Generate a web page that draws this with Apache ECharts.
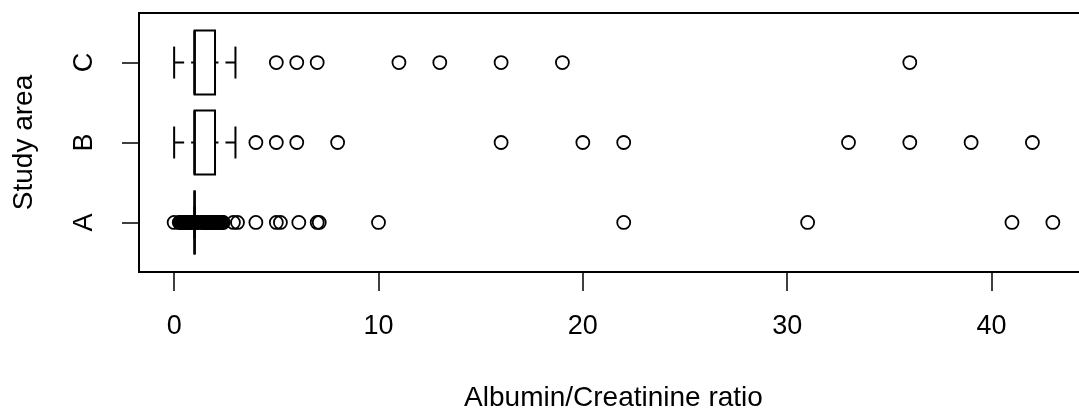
<!DOCTYPE html>
<html>
<head>
<meta charset="utf-8">
<script src="https://cdn.jsdelivr.net/npm/echarts@6/dist/echarts.min.js"></script>
<style>
html,body{margin:0;padding:0;background:#fff;}
#chart{width:1079px;height:410px;}
</style>
</head>
<body>
<div id="chart"></div>
<script>
// ---- data ----
const categories = ['A', 'B', 'C'];
// [min whisker, Q1, median, Q3, max whisker]
const statsA = [1, 1, 1, 1, 1];
const statsB = [0, 1, 1, 2, 3];
const statsC = [0, 1, 1, 2, 3];
const outliersA = [0, 0.25, 0.3, 0.35, 0.4, 0.45, 0.5, 0.55, 0.6, 0.65, 0.7, 0.75, 0.8, 0.85, 0.9, 0.95,
  1.05, 1.1, 1.15, 1.35, 1.4, 1.45, 1.5, 1.55, 1.6, 1.65, 1.7, 1.75, 1.8, 1.85, 1.9, 1.95,
  2, 2.05, 2.1, 2.15, 2.2, 2.25, 2.3, 2.35, 2.4, 2.9, 3.1, 4, 5, 5.2, 6.1, 7, 7.1, 10, 22, 31, 41, 43];
const outliersB = [4, 5, 6, 8, 16, 20, 22, 33, 36, 39, 42];
const outliersC = [5, 6, 7, 11, 13, 16, 19, 36];
const xTicks = [0, 10, 20, 30, 40];
const yTicks = [1, 2, 3];
const xTitle = 'Albumin/Creatinine ratio';
const yTitle = 'Study area';

// ---- build series data ----
const allStats = [statsA, statsB, statsC];
const boxData = allStats.map((s, i) => [i + 1].concat(s));
const allOut = [outliersA, outliersB, outliersC];
const outData = [];
allOut.forEach((arr, i) => arr.forEach(v => outData.push([v, i + 1])));

const FONT = 'Liberation Sans, Arial, sans-serif';
const chart = echarts.init(document.getElementById('chart'));

function renderBox(params, api) {
  const y = api.value(0);
  const mn = api.value(1), q1 = api.value(2), md = api.value(3), q3 = api.value(4), mx = api.value(5);
  const half = api.size([0, 0.4])[1];
  const cap = api.size([0, 0.2])[1];
  const pMin = api.coord([mn, y]), pQ1 = api.coord([q1, y]), pMd = api.coord([md, y]);
  const pQ3 = api.coord([q3, y]), pMax = api.coord([mx, y]);
  const cy = pMin[1];
  const line = { stroke: '#000', lineWidth: 2 };
  const dash = { stroke: '#000', lineWidth: 2, lineDash: [10, 7] };
  return {
    type: 'group',
    children: [
      { type: 'line', shape: { x1: pMin[0], y1: cy, x2: pQ1[0], y2: cy }, style: dash },
      { type: 'line', shape: { x1: pMax[0], y1: cy, x2: pQ3[0], y2: cy }, style: dash },
      { type: 'line', shape: { x1: pMin[0], y1: cy - cap, x2: pMin[0], y2: cy + cap }, style: line },
      { type: 'line', shape: { x1: pMax[0], y1: cy - cap, x2: pMax[0], y2: cy + cap }, style: line },
      { type: 'rect', shape: { x: pQ1[0], y: cy - half, width: pQ3[0] - pQ1[0], height: 2 * half }, style: { fill: 'none', stroke: '#000', lineWidth: 2 } },
      { type: 'line', shape: { x1: pMd[0], y1: cy - half, x2: pMd[0], y2: cy + half }, style: { stroke: '#000', lineWidth: 2.5 } }
    ]
  };
}

chart.setOption({
  animation: false,
  backgroundColor: '#fff',
  grid: {
    left: 139, top: 13, bottom: 138, right: -9,
    show: true, borderColor: '#000', borderWidth: 2, backgroundColor: 'transparent',
    containLabel: false, outerBoundsMode: 'none'
  },
  xAxis: {
    type: 'value', min: -1.72, max: 44.72,
    splitLine: { show: false },
    axisLine: { show: false, onZero: false },
    axisTick: { show: true, length: 19, customValues: xTicks, lineStyle: { color: '#000', width: 1.5 } },
    axisLabel: { customValues: xTicks, color: '#000', fontSize: 27, fontFamily: FONT, margin: 41 },
    name: xTitle, nameLocation: 'middle', nameGap: 112,
    nameTextStyle: { color: '#000', fontSize: 28, fontFamily: FONT }
  },
  yAxis: {
    type: 'value', min: 0.38, max: 3.62,
    splitLine: { show: false },
    axisLine: { show: false, onZero: false },
    axisTick: { show: true, length: 17, customValues: yTicks, lineStyle: { color: '#000', width: 1.5 } },
    axisLabel: {
      customValues: yTicks, rotate: 90, color: '#000', fontSize: 27, fontFamily: FONT, margin: 41,
      formatter: v => categories[Math.round(v) - 1] || ''
    },
    name: yTitle, nameLocation: 'middle', nameGap: 101, nameRotate: 90,
    nameTextStyle: { color: '#000', fontSize: 28, fontFamily: FONT }
  },
  series: [
    {
      type: 'custom',
      renderItem: renderBox,
      data: boxData,
      encode: { x: [1, 2, 3, 4, 5], y: 0 },
      z: 3
    },
    {
      type: 'scatter',
      data: outData,
      symbol: 'circle',
      symbolSize: 13,
      itemStyle: { color: 'rgba(0,0,0,0)', borderColor: '#000', borderWidth: 1.8, opacity: 1 },
      z: 4
    }
  ]
});
</script>
</body>
</html>
